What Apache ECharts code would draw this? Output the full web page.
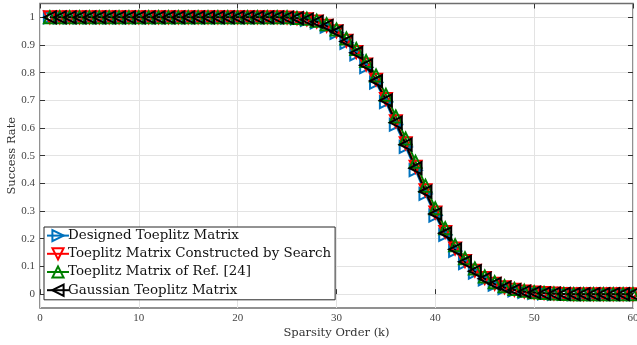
<!DOCTYPE html>
<html>
<head>
<meta charset="utf-8">
<script src="https://cdn.jsdelivr.net/npm/echarts@6/dist/echarts.min.js"></script>
<style>
html, body { margin: 0; padding: 0; background: #fff; }
#main { width: 637px; height: 345px; }
</style>
</head>
<body>
<div id="main"></div>
<script>
// sparsity order k
var sparsity = [1,2,3,4,5,6,7,8,9,10,11,12,13,14,15,16,17,18,19,20,21,22,23,24,25,26,27,28,29,30,
  31,32,33,34,35,36,37,38,39,40,41,42,43,44,45,46,47,48,49,50,51,52,53,54,55,56,57,58,59,60];

var designed = [1,1,1,1,1,1,1,1,1,1,1,1,1,1,1,1,1,1,1,1,1,1,1,1,
  0.999,0.996,0.991,0.982,0.966,0.944,0.908,0.866,0.82,0.764,0.694,0.612,0.532,0.448,0.362,0.284,
  0.214,0.156,0.112,0.078,0.053,0.034,0.022,0.014,0.008,0.005,0.003,0.001,0.001,0,0,0,0,0,0,0];
var bySearch = [1,1,1,1,1,1,1,1,1,1,1,1,1,1,1,1,1,1,1,1,1,1,1,1,
  0.999,0.997,0.993,0.985,0.97,0.95,0.915,0.875,0.83,0.775,0.705,0.625,0.545,0.46,0.375,0.295,
  0.225,0.165,0.12,0.085,0.058,0.038,0.025,0.016,0.01,0.006,0.004,0.002,0.001,0,0,0,0,0,0,0];
var ref24 = [1,1,1,1,1,1,1,1,1,1,1,1,1,1,1,1,1,1,1,1,1,1,1,1,
  1,0.998,0.995,0.988,0.975,0.956,0.924,0.886,0.842,0.79,0.72,0.642,0.562,0.478,0.392,0.31,
  0.238,0.177,0.13,0.093,0.064,0.043,0.029,0.019,0.012,0.007,0.004,0.002,0.001,0,0,0,0,0,0,0];
var gaussian = [1,1,1,1,1,1,1,1,1,1,1,1,1,1,1,1,1,1,1,1,1,1,1,1,
  0.999,0.997,0.992,0.984,0.969,0.948,0.913,0.872,0.827,0.77,0.7,0.62,0.54,0.455,0.37,0.29,
  0.22,0.162,0.117,0.083,0.056,0.037,0.024,0.015,0.009,0.006,0.003,0.002,0.001,0,0,0,0,0,0,0];

var serif = '"Liberation Serif", "DejaVu Serif", serif';
var serifWide = '"DejaVu Serif", serif';
var frame = '#6e6e6e';
var tickCol = '#333';

function pairs(ys) {
  var out = [];
  for (var i = 0; i < sparsity.length; i++) out.push([sparsity[i], ys[i]]);
  return out;
}

function mk(name, ys, color, rot) {
  return {
    name: name,
    type: 'line',
    xAxisIndex: 0,
    yAxisIndex: 0,
    data: pairs(ys),
    symbol: 'triangle',
    symbolSize: 12,
    symbolRotate: rot,
    showAllSymbol: true,
    color: color,
    lineStyle: { color: color, width: 2 },
    itemStyle: { color: 'rgba(255,255,255,0)', borderColor: color, borderWidth: 2 },
    animation: false
  };
}

var myChart = echarts.init(document.getElementById('main'));

myChart.setOption({
  animation: false,
  grid: [
    { left: 40, right: 4, top: 3.5, bottom: 37, show: true, borderColor: frame, borderWidth: 1.5, outerBoundsMode: 'none' },
    { left: 40, right: 4, top: 17.3, bottom: 50.9, show: false, outerBoundsMode: 'none' }
  ],
  legend: {
    orient: 'vertical',
    left: 44,
    top: 227,
    padding: [2, 4, 3, 2],
    itemGap: 5,
    itemWidth: 22,
    itemHeight: 14,
    borderColor: '#262626',
    borderWidth: 1,
    borderRadius: 0,
    backgroundColor: '#fff',
    textStyle: { fontFamily: serifWide, fontSize: 13.4, color: '#111', padding: [0, 0, 0, -6] },
    data: ['Designed Toeplitz Matrix', 'Toeplitz Matrix Constructed by Search',
      'Toeplitz Matrix of Ref. [24]', 'Gaussian Teoplitz Matrix']
  },
  xAxis: [
    {
      type: 'value', gridIndex: 0, min: 0, max: 60, interval: 10,
      name: 'Sparsity Order (k)', nameLocation: 'middle', nameGap: 19, nameMoveOverlap: false,
      nameTextStyle: { fontFamily: serifWide, fontSize: 11.5, color: tickCol },
      axisLine: { show: false },
      axisTick: { inside: true, length: 5, lineStyle: { color: tickCol } },
      axisLabel: { fontFamily: serif, fontSize: 11, color: '#444', margin: 5 },
      splitLine: { show: true, lineStyle: { color: '#e3e3e3', width: 1 } }
    },
    {
      type: 'value', gridIndex: 0, position: 'top', min: 0, max: 60, interval: 10,
      axisLine: { show: false },
      axisTick: { inside: true, length: 5, lineStyle: { color: tickCol } },
      axisLabel: { show: false },
      splitLine: { show: false }
    },
    {
      type: 'value', gridIndex: 1, min: 0, max: 60, show: false
    }
  ],
  yAxis: [
    {
      type: 'value', gridIndex: 0, min: -0.05, max: 1.05,
      axisLine: { show: false }, axisTick: { show: false },
      axisLabel: { show: false }, splitLine: { show: false }
    },
    {
      type: 'value', gridIndex: 1, min: 0, max: 1, interval: 0.1,
      name: 'Success Rate', nameLocation: 'middle', nameGap: 22, nameMoveOverlap: false,
      nameTextStyle: { fontFamily: serifWide, fontSize: 11.5, color: tickCol },
      axisLine: { show: false },
      axisTick: { inside: true, length: 5, lineStyle: { color: tickCol } },
      axisLabel: {
        fontFamily: serif, fontSize: 11, color: '#444', margin: 5,
        formatter: function (v) { return String(Math.round(v * 10) / 10); }
      },
      splitLine: { show: true, lineStyle: { color: '#e3e3e3', width: 1 } }
    },
    {
      type: 'value', gridIndex: 1, position: 'right', min: 0, max: 1, interval: 0.1,
      axisLine: { show: false },
      axisTick: { inside: true, length: 5, lineStyle: { color: tickCol } },
      axisLabel: { show: false }, splitLine: { show: false }
    }
  ],
  series: [
    mk('Designed Toeplitz Matrix', designed, '#0072BD', -90),
    mk('Toeplitz Matrix Constructed by Search', bySearch, '#FF0000', 180),
    mk('Toeplitz Matrix of Ref. [24]', ref24, '#007F00', 0),
    mk('Gaussian Teoplitz Matrix', gaussian, '#000000', 90)
  ]
});
</script>
</body>
</html>
